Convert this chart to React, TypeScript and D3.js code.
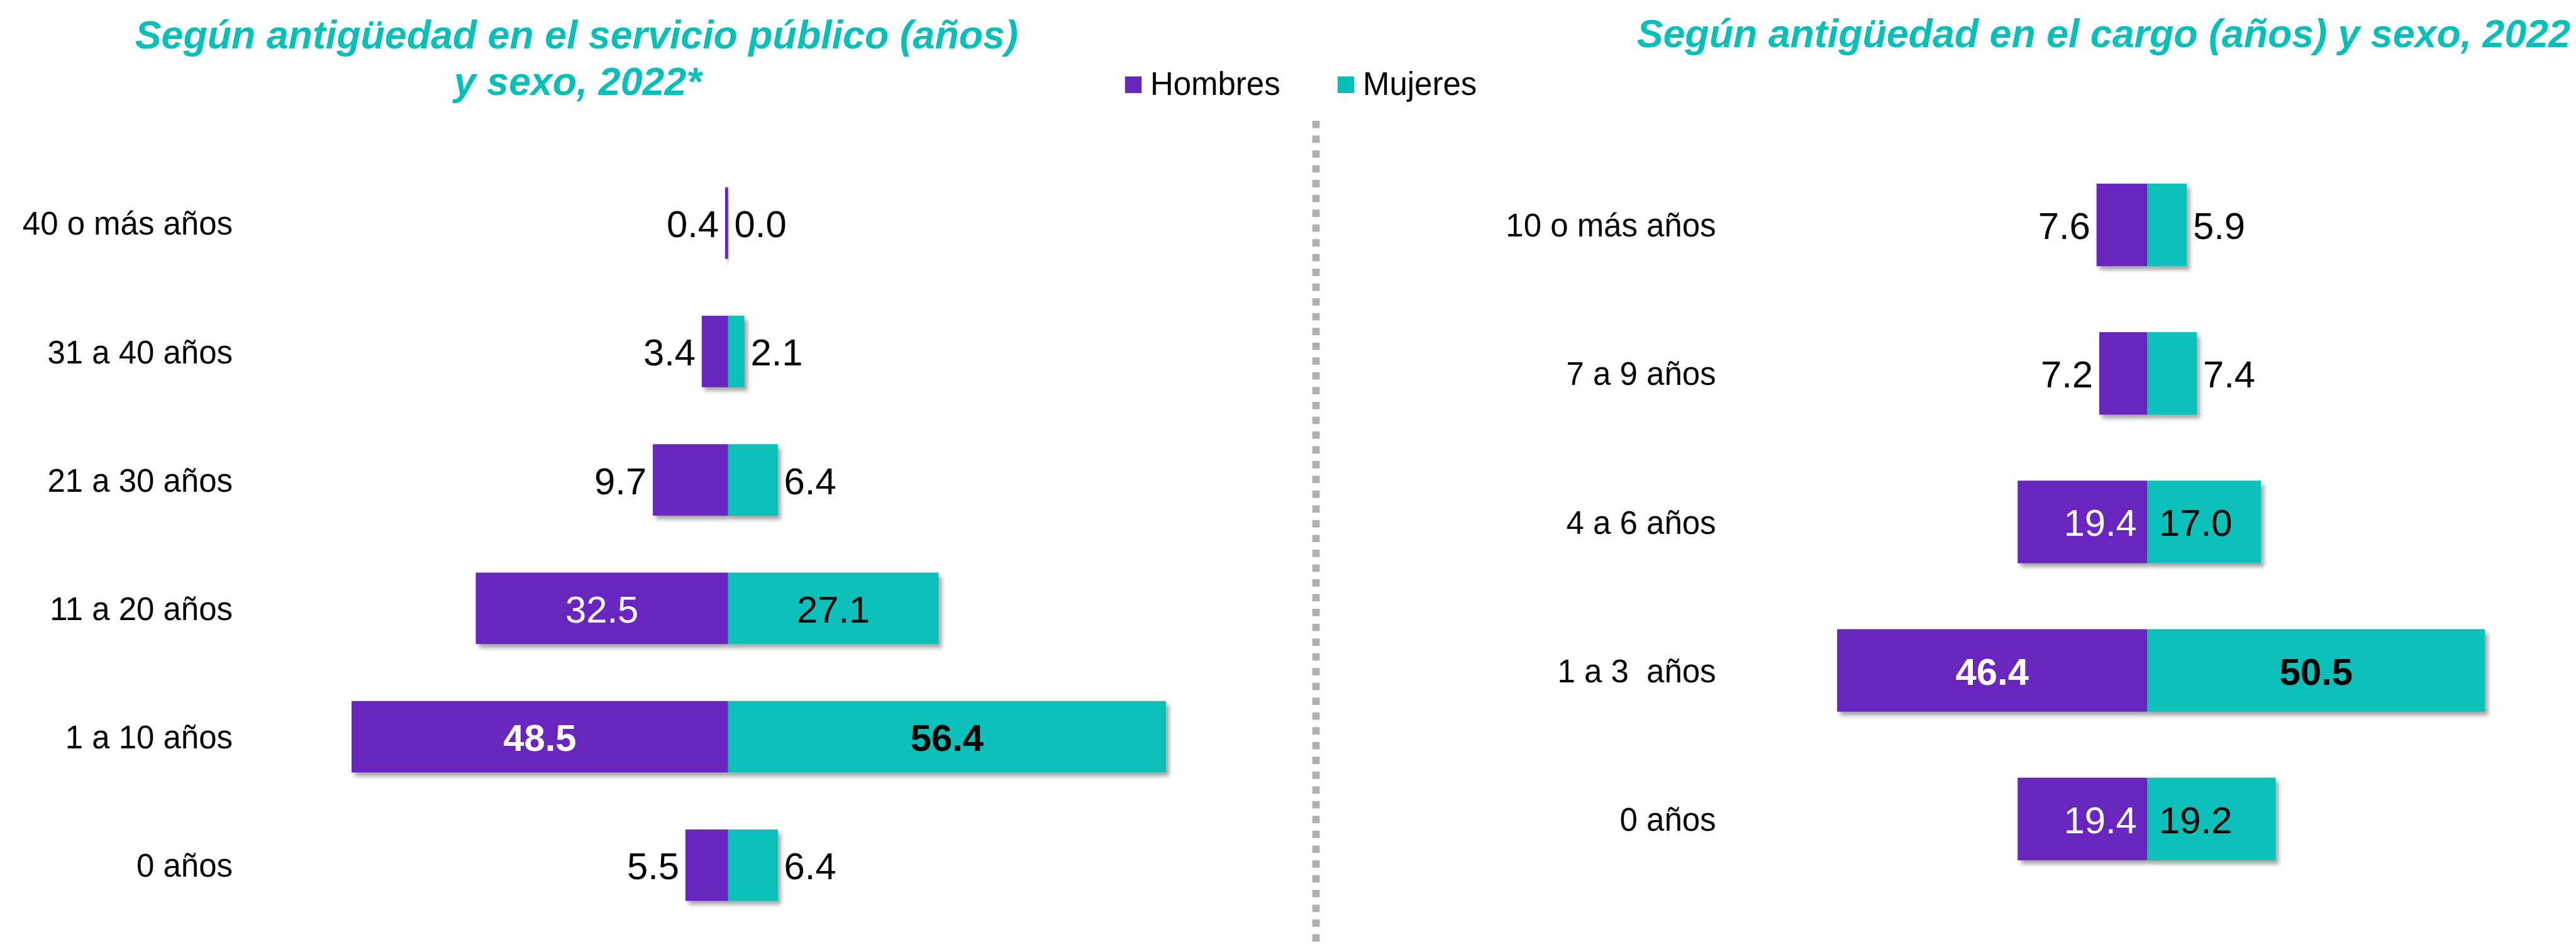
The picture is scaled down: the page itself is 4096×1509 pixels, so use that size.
import React from 'react';
import * as d3 from 'd3';

// ---------- data ----------
const seriesNames = ['Hombres', 'Mujeres'];

const leftTitle = ['Según antigüedad en el servicio público (años)', 'y sexo, 2022*'];
const leftCategories = ['40 o más años', '31 a 40 años', '21 a 30 años', '11 a 20 años', '1 a 10 años', '0 años'];
const leftHombres = [0.4, 3.4, 9.7, 32.5, 48.5, 5.5];
const leftMujeres = [0.0, 2.1, 6.4, 27.1, 56.4, 6.4];

const rightTitle = ['Según antigüedad en el cargo (años) y sexo, 2022'];
const rightCategories = ['10 o más años', '7 a 9 años', '4 a 6 años', '1 a 3  años', '0 años'];
const rightHombres = [7.6, 7.2, 19.4, 46.4, 19.4];
const rightMujeres = [5.9, 7.4, 17.0, 50.5, 19.2];

// ---------- style ----------
const PURPLE = '#6826BF';
const TEAL = '#07BFB9';
const FONT = '"Liberation Sans", Arial, sans-serif';
const W = 4179;
const H = 1540;

type Mode = 'outside' | 'base' | 'center';

interface PanelProps {
  cats: string[];
  hom: number[];
  muj: number[];
  center: number;
  pxPerUnit: number;
  yTop: number;
  yBottom: number;
  barH: number;
  labelRight: number;
  modeFor: (v: number) => Mode;
}

function Panel({ cats, hom, muj, center, pxPerUnit, yTop, yBottom, barH, labelRight, modeFor }: PanelProps) {
  const x = d3.scaleLinear().domain([-60, 60]).range([center - 60 * pxPerUnit, center + 60 * pxPerUnit]);
  const y = d3.scalePoint<string>().domain(cats).range([yTop, yBottom]);
  const maxIdx = d3.maxIndex(cats, (_c, i) => hom[i] + muj[i]);
  const vfs = 61;
  const gap = 10;
  return (
    <g>
      {cats.map((c, i) => {
        const cy = y(c) as number;
        const h = hom[i];
        const m = muj[i];
        const x0 = x(0);
        const xh = x(-h);
        const xm = x(m);
        const bold = i === maxIdx;
        const mh = modeFor(h);
        const mm = modeFor(m);
        const ty = cy + 23;
        let hx = xh - gap, ha: any = 'end', hc = '#000';
        if (mh === 'center') { hx = (xh + x0) / 2; ha = 'middle'; hc = '#fff'; }
        else if (mh === 'base') { hx = x0 - 17; ha = 'end'; hc = '#fff'; }
        let mx = xm + gap, ma: any = 'start';
        if (mm === 'center') { mx = (xm + x0) / 2; ma = 'middle'; }
        else if (mm === 'base') { mx = x0 + 19; ma = 'start'; }
        return (
          <g key={c}>
            <g filter="url(#shadow)">
              <rect x={xh} y={cy - barH / 2} width={x0 - xh} height={barH} fill={PURPLE} />
              <rect x={x0} y={cy - barH / 2} width={xm - x0} height={barH} fill={TEAL} />
            </g>
            <text x={labelRight} y={cy + 19} textAnchor="end" fontSize={52} fontFamily={FONT} fill="#000" style={{ whiteSpace: 'pre' }}>{c}</text>
            <text x={hx} y={ty} textAnchor={ha} fontSize={vfs} fontFamily={FONT} fontWeight={bold ? 'bold' : 'normal'} fill={hc}>{d3.format('.1f')(h)}</text>
            <text x={mx} y={ty} textAnchor={ma} fontSize={vfs} fontFamily={FONT} fontWeight={bold ? 'bold' : 'normal'} fill="#000">{d3.format('.1f')(m)}</text>
          </g>
        );
      })}
    </g>
  );
}

export default function App() {
  return (
    <svg
      width={4096}
      height={1509}
      viewBox={`0 0 ${W} ${H}`}
      style={{ position: 'absolute', left: 0, top: 0, display: 'block', background: '#fff' }}
    >
      <defs>
        <filter id="shadow" x="-20%" y="-20%" width="140%" height="150%">
          <feDropShadow dx={5} dy={6} stdDeviation={3} floodColor="#000" floodOpacity={0.35} />
        </filter>
      </defs>
      <rect x={0} y={0} width={W} height={H} fill="#fff" />

      {/* titles */}
      <text x={935} y={79} textAnchor="middle" fontSize={64} fontWeight="bold" fontStyle="italic" fontFamily={FONT} fill={TEAL}>{leftTitle[0]}</text>
      <text x={937} y={154} textAnchor="middle" fontSize={64} fontWeight="bold" fontStyle="italic" fontFamily={FONT} fill={TEAL}>{leftTitle[1]}</text>
      <text x={3413} y={77} textAnchor="middle" fontSize={64} fontWeight="bold" fontStyle="italic" fontFamily={FONT} fill={TEAL}>{rightTitle[0]}</text>

      {/* legend */}
      {seriesNames.map((s, i) => {
        const lx = i === 0 ? 1825 : 2170;
        return (
          <g key={s}>
            <rect x={lx} y={124} width={27} height={27} fill={i === 0 ? PURPLE : TEAL} />
            <text x={lx + 41} y={154} fontSize={52} fontFamily={FONT} fill="#000">{s}</text>
          </g>
        );
      })}

      {/* divider */}
      <line x1={2135} x2={2135} y1={196} y2={H} stroke="#B0B0B0" strokeWidth={12} strokeDasharray="12 12" />

      <Panel
        cats={leftCategories}
        hom={leftHombres}
        muj={leftMujeres}
        center={1181}
        pxPerUnit={12.6}
        yTop={362}
        yBottom={1404}
        barH={116}
        labelRight={377}
        modeFor={(v) => (v >= 20 ? 'center' : 'outside')}
      />
      <Panel
        cats={rightCategories}
        hom={rightHombres}
        muj={rightMujeres}
        center={3484}
        pxPerUnit={10.85}
        yTop={365}
        yBottom={1329}
        barH={134}
        labelRight={2784}
        modeFor={(v) => (v >= 40 ? 'center' : v >= 15 ? 'base' : 'outside')}
      />
    </svg>
  );
}
